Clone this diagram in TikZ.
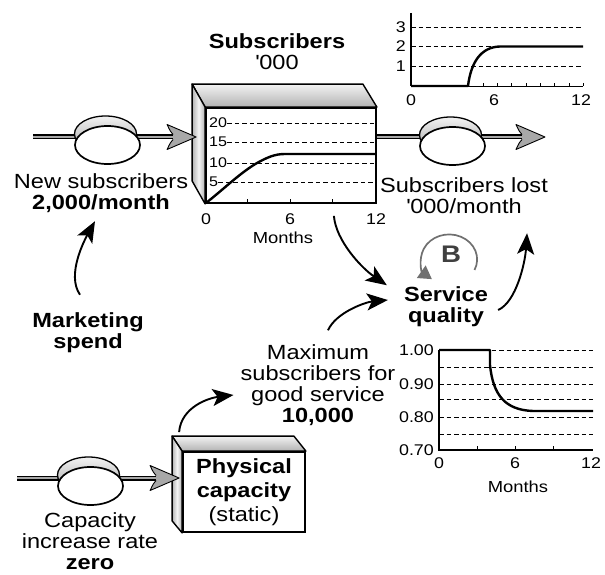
\documentclass[tikz,border=0pt]{standalone}
\usepackage{fontspec}
\setmainfont{Liberation Sans}[FakeStretch=1.15]
\usetikzlibrary{arrows.meta,shapes.geometric}

\definecolor{pipegray}{HTML}{A8A8A8}
\definecolor{loopgray}{HTML}{707070}
\definecolor{bletter}{HTML}{404040}

\tikzset{
  txt/.style={font=\fontsize{20.5}{21}\selectfont, align=center, inner sep=0pt},
  txtb/.style={txt, font=\fontsize{20.5}{21}\selectfont\bfseries},
  axlbl/.style={font=\fontsize{15.5}{16}\selectfont, inner sep=0pt},
  boxlbl/.style={font=\fontsize{14}{14}\selectfont, inner sep=0pt, anchor=west},
  monthlbl/.style={font=\fontsize{16}{17}\selectfont, inner sep=0pt},
  stockface/.style={draw, line width=1.8pt, fill=white, inner sep=0pt},
  bevel/.style={draw, line width=1.4pt, line join=round},
  gridline/.style={dash pattern=on 4.5pt off 3pt, line width=0.9pt},
  plotline/.style={line width=2.4pt, line join=round},
  cause/.style={line width=1.9pt, -{Stealth[length=21pt, width=17pt, inset=5pt]}},
  pipeouter/.style={line width=5pt},
  pipeinner/.style={line width=2.6pt, pipegray},
  valvedisc/.style={draw, line width=1.3pt, top color=gray!10, bottom color=gray!70},
  valve/.style={draw, ellipse, line width=1.7pt, fill=white, minimum width=65pt, minimum height=38pt, inner sep=0pt},
  flowtip/.pic={
    \fill[pipegray] (0,0) -- (-29,-12.5) .. controls (-26,-6) .. (-23,-2.5) -- (-23,2.5) .. controls (-26,6) .. (-29,12.5) -- cycle;
    \draw[line width=0.9pt, line join=round] (-23,-2.5) .. controls (-26,-6) .. (-29,-12.5) -- (0,0) -- (-29,12.5) .. controls (-26,6) .. (-23,2.5);
  }
}

\begin{document}
\begin{tikzpicture}[x=1pt, y=-1pt]
\useasboundingbox (0,0) rectangle (605,575);

% Subscribers stock
\node[stockface, minimum width=170pt, minimum height=95pt] (subs) at (291,155.5) {};
\draw[bevel, top color=gray!10, bottom color=gray!60] (subs.north west) -- ++(-13,-23) -- ([shift={(-14,-23)}]subs.north east) -- (subs.north east) -- cycle;
\draw[bevel, left color=gray!60, right color=gray!60, middle color=gray!8] (subs.north west) -- ++(-13,-23) -- ([shift={(-13,-23)}]subs.south west) -- (subs.south west) -- cycle;
\foreach \v/\yy in {20/123, 15/142, 10/163, 5/182} {
  \node[boxlbl] (l\v) at (209,\yy) {\v};
  \draw[gridline] (l\v.east) -- (l\v -| subs.east);
}
\foreach \xx in {247,290,332} \draw[line width=0.8pt] (\xx,203) -- (\xx,199);
\draw[plotline] (206,203) .. controls (225,188) and (240,173) .. (257,163) .. controls (268,157) and (275,154) .. (285,154) -- (376,154);
\node[axlbl] (s0) at (206,219) {0};
\node[axlbl] (s6) at (290,219) {6};
\node[axlbl] (s12) at (376,219) {12};
\node[monthlbl] (smonths) at (283,238) {Months};
\node[txt] (title) at (277,52) {\textbf{Subscribers}\\\textquotesingle000};

% Physical capacity stock
\node[stockface, minimum width=122pt, minimum height=80pt, font=\fontsize{20.5}{24}\selectfont, align=center] (phys) at (244,492) {\textbf{Physical}\\\textbf{capacity}\\(static)};
\draw[bevel, top color=gray!10, bottom color=gray!60] (phys.north west) -- ++(-10,-15) -- ([shift={(-12,-15)}]phys.north east) -- (phys.north east) -- cycle;
\draw[bevel, left color=gray!60, right color=gray!60, middle color=gray!8] (phys.north west) -- ++(-10,-15) -- ([shift={(-10,-12)}]phys.south west) -- (phys.south west) -- cycle;

% flows
\coordinate (newsrc) at (33,137);
\coordinate (vnewc) at (107.5,145);
\coordinate (lostsink) at (545,137);
\coordinate (vlostc) at (452.5,146);
\coordinate (capsrc) at (17,478);
\coordinate (vcapc) at (90.5,486);

\draw[pipeouter] (newsrc) -- (newsrc -| vnewc);
\draw[pipeinner] (newsrc) -- (newsrc -| vnewc);
\draw[pipeouter] (newsrc -| vnewc) -- ([shift={(-31.5,0)}]newsrc -| subs.west);
\draw[pipeinner] (newsrc -| vnewc) -- ([shift={(-30.5,0)}]newsrc -| subs.west);
\pic at ([shift={(-9,0)}]newsrc -| subs.west) {flowtip};

\draw[pipeouter] (lostsink -| subs.east) -- ([shift={(-22.5,0)}]lostsink);
\draw[pipeinner] (lostsink -| subs.east) -- ([shift={(-21.5,0)}]lostsink);
\pic at (lostsink) {flowtip};

\draw[pipeouter] (capsrc) -- (capsrc -| vcapc);
\draw[pipeinner] (capsrc) -- (capsrc -| vcapc);
\draw[pipeouter] (capsrc -| vcapc) -- ([shift={(-25.5,0)}]capsrc -| phys.west);
\draw[pipeinner] (capsrc -| vcapc) -- ([shift={(-24.5,0)}]capsrc -| phys.west);
\pic at ([shift={(-3,0)}]capsrc -| phys.west) {flowtip};

% valves
\path[valvedisc] ([shift={(-2,-11)}]vnewc) ellipse[x radius=31, y radius=18];
\node[valve] (vnew) at (vnewc) {};
\path[valvedisc] ([shift={(-2,-11)}]vlostc) ellipse[x radius=31, y radius=18];
\node[valve] (vlost) at (vlostc) {};
\path[valvedisc] ([shift={(-2,-11)}]vcapc) ellipse[x radius=31, y radius=18];
\node[valve] (vcap) at (vcapc) {};

% labels
\node[txt] (newsub) at (101,193.5) {New subscribers\\\textbf{2,000/month}};
\node[txt] (lost) at (464,196) {Subscribers lost\\\textquotesingle000/month};
\node[txtb] (mkt) at (88,332.5) {Marketing\\spend};
\node[txtb] (svc) at (446,307) {Service\\quality};
\node[txt] (maxsub) at (318,385) {Maximum\\subscribers for\\good service\\\textbf{10,000}};
\node[txt] (capinc) at (90,541.5) {Capacity\\increase rate\\\textbf{zero}};

% causal links
\draw[cause] ([shift={(-8,-17.5)}]mkt.north) .. controls +(-14,-20) and +(-10,18) .. ([shift={(-6,8)}]newsub.south);
\draw[cause] ([shift={(-43,12)}]subs.south east) .. controls +(2,25) and +(-25,-17) .. ([shift={(-17,-1.5)}]svc.north west);
\draw[cause] ([shift={(10,-14)}]maxsub.north) .. controls +(8,-18) and +(-22,2) .. ([shift={(-16,-7)}]svc.west);
\draw[cause] ([shift={(10,3)}]svc.east) .. controls +(18,-8) and +(-2,30) .. ([shift={(-21,19)}]lost.south east);
\draw[cause] ([shift={(-3,-19)}]phys.north west) .. controls +(2,-25) and +(-25,3) .. ([shift={(-7,10)}]maxsub.west);

% balancing loop
\node[font=\fontsize{24}{24}\selectfont\bfseries, text=bletter, inner sep=0pt] (bsym) at (451,254) {B};
\draw[loopgray, line width=1.7pt, -{Triangle[length=13pt, width=15pt]}] ([shift={(23.5,16)}]bsym.center) arc[start angle=25, end angle=-232, x radius=28, y radius=25];

% subscribers lost chart
\draw[line width=1.6pt] (411,13) -- (411,86);
\draw[line width=0.8pt] (411,86) -- (583,86);
\foreach \lb/\yy in {3/27, 2/46.5, 1/66} {
  \node[axlbl, anchor=east] (r\lb) at (406,\yy) {\lb};
  \draw[gridline] (411,\yy) -- (583,\yy);
}
\foreach \xx in {483,497,511,526,540,554,569,583} \draw[line width=0.8pt] (\xx,86) -- (\xx,83);
\draw[plotline] (411,86) -- (468,86) .. controls (471,62) and (481,47) .. (500,46.5) -- (583,46.5);
\node[axlbl] (r0) at (411,100) {0};
\node[axlbl] (r6) at (494,100) {6};
\node[axlbl] (r12) at (581,100) {12};

% service quality chart
\foreach \yy in {350,367,384,399,417,434} \draw[gridline] (439,\yy) -- (593,\yy);
\draw[line width=2pt] (439,350) -- (439,450) -- (593,450);
\foreach \xx in {477,515,553} \draw[line width=0.8pt] (\xx,450) -- (\xx,446);
\draw[plotline] (439,350) -- (490,350) -- (490,365) .. controls (493,395) and (505,410) .. (533,411) -- (593,411);
\foreach \lb/\yy in {1.00/350, 0.90/384, 0.80/417, 0.70/450}
  \node[axlbl, anchor=east] (q\lb) at (434,\yy) {\lb};
\node[axlbl] (q0) at (439,463) {0};
\node[axlbl] (q6) at (515,463) {6};
\node[axlbl] (q12) at (591,463) {12};
\node[monthlbl] (qmonths) at (518,487) {Months};
\end{tikzpicture}
\end{document}
